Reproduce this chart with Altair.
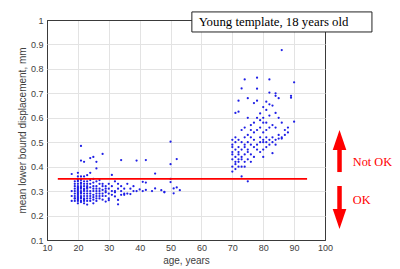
import altair as alt
import pandas as pd

# ---- data ----
young_ages = (
    [18]*4 + [19]*10 + [20]*20 + [21]*18 + [22]*14 + [23]*12 + [24]*10 + [25]*10 +
    [26]*10 + [27]*7 + [28]*7 + [29]*6 + [30]*5 + [31]*4 + [32]*4 + [33]*4 + [34]*4 +
    [35]*3 + [36]*2 + [37]*2 + [38]*2 + [39]*2 + [40] + [41]*2 + [42]*3 + [44] +
    [45]*2 + [47] + [48]*2 + [50]*4 + [51]*2 + [52]*2 + [53]
)
young_vals = [
    0.37, 0.30, 0.26, 0.28,
    0.34, 0.32, 0.31, 0.30, 0.29, 0.28, 0.27, 0.27, 0.33, 0.26,
    0.375, 0.35, 0.345, 0.34, 0.33, 0.32, 0.315, 0.31, 0.30, 0.295, 0.29, 0.285, 0.28, 0.275, 0.27, 0.265, 0.26, 0.25, 0.36, 0.305,
    0.485, 0.425, 0.36, 0.345, 0.335, 0.33, 0.32, 0.31, 0.30, 0.295, 0.29, 0.28, 0.275, 0.27, 0.26, 0.255, 0.35, 0.315,
    0.42, 0.36, 0.34, 0.33, 0.32, 0.31, 0.30, 0.29, 0.28, 0.27, 0.265, 0.26, 0.25, 0.305,
    0.365, 0.34, 0.33, 0.32, 0.31, 0.30, 0.29, 0.28, 0.27, 0.26, 0.245, 0.315,
    0.435, 0.375, 0.345, 0.33, 0.315, 0.30, 0.29, 0.28, 0.27, 0.26,
    0.44, 0.35, 0.335, 0.32, 0.31, 0.30, 0.285, 0.275, 0.265, 0.25,
    0.42, 0.393, 0.34, 0.32, 0.31, 0.30, 0.29, 0.28, 0.27, 0.26,
    0.345, 0.33, 0.31, 0.30, 0.29, 0.28, 0.27,
    0.452, 0.33, 0.32, 0.305, 0.29, 0.28, 0.265,
    0.32, 0.31, 0.295, 0.28, 0.257, 0.30,
    0.33, 0.31, 0.29, 0.27, 0.263,
    0.366, 0.32, 0.30, 0.285,
    0.34, 0.30, 0.295, 0.278,
    0.33, 0.31, 0.264, 0.246,
    0.427, 0.32, 0.30, 0.285,
    0.31, 0.29, 0.285,
    0.33, 0.29,
    0.31, 0.288,
    0.32, 0.30,
    0.425, 0.30,
    0.307,
    0.338, 0.30,
    0.427, 0.335, 0.305,
    0.30,
    0.372, 0.311,
    0.304,
    0.297, 0.295,
    0.502, 0.41, 0.35, 0.337,
    0.311, 0.291,
    0.431, 0.315,
    0.304,
]

old_ages = (
    [70]*8 + [71]*8 + [72]*9 + [73]*8 + [74]*8 + [75]*8 + [76]*6 + [77]*6 + [78]*7 +
    [79]*6 + [80]*8 + [81]*7 + [82]*7 + [83]*5 + [84]*6 + [85]*4 + [86]*4 + [87]*2 +
    [88]*2 + [89]*2 + [90]*2
)
old_vals = [
    0.51, 0.49, 0.46, 0.43, 0.40, 0.38, 0.48, 0.45,
    0.62, 0.52, 0.47, 0.44, 0.42, 0.50, 0.41, 0.39,
    0.67, 0.625, 0.51, 0.48, 0.46, 0.43, 0.40, 0.45, 0.42,
    0.72, 0.55, 0.50, 0.47, 0.44, 0.43, 0.40, 0.36,
    0.757, 0.56, 0.52, 0.49, 0.45, 0.42, 0.40, 0.48,
    0.68, 0.60, 0.53, 0.50, 0.47, 0.43, 0.34, 0.46,
    0.57, 0.52, 0.49, 0.45, 0.42, 0.55,
    0.66, 0.58, 0.51, 0.48, 0.44, 0.54,
    0.764, 0.719, 0.67, 0.60, 0.55, 0.49, 0.47,
    0.618, 0.59, 0.52, 0.50, 0.46, 0.56,
    0.644, 0.60, 0.54, 0.51, 0.50, 0.47, 0.44, 0.58,
    0.666, 0.632, 0.58, 0.52, 0.50, 0.48, 0.55,
    0.757, 0.703, 0.655, 0.609, 0.56, 0.51, 0.49,
    0.65, 0.57, 0.52, 0.50, 0.455,
    0.70, 0.69, 0.62, 0.56, 0.51, 0.49,
    0.68, 0.60, 0.53, 0.515,
    0.877, 0.58, 0.52, 0.515,
    0.55, 0.53,
    0.56, 0.54,
    0.682, 0.69,
    0.745, 0.584,
]

threshold = 0.35
threshold_ages = [13.5, 94.2]

x_ticks = [10, 20, 30, 40, 50, 60, 70, 80, 90, 100]
y_ticks = [0.1, 0.2, 0.3, 0.4, 0.5, 0.6, 0.7, 0.8, 0.9, 1.0]

title_text = "Young template, 18 years old"
box_x = [56.9, 115.2]
box_y = [0.951, 1.033]
box_text_pos = [59.1, 0.992]

arrow_x = 104.7
up_shaft = [0.378, 0.470]
up_head_center = 0.509
down_shaft = [0.321, 0.225]
down_head_center = 0.186
labels_txt = ["Not OK", "OK"]
labels_y = [0.419, 0.263]
labels_x = 109.0

RED = "#ff0000"
FRAME = "#3a3a3a"

df_pts = pd.DataFrame({
    "age": young_ages + old_ages,
    "val": young_vals + old_vals,
})

xscale = alt.Scale(domain=[10, 100], nice=False, zero=False)
yscale = alt.Scale(domain=[0.1, 1.0], nice=False, zero=False)

axis_common = dict(
    labelFont="Liberation Sans", labelFontSize=9, labelColor="#404040",
    titleFont="Liberation Sans", titleFontSize=10, titleColor="#404040",
    titleFontWeight="normal", gridWidth=1,
    ticks=False, domain=False, labelOverlap=False, labelFlush=False, labelBound=False,
    tickCount=20,
)

grid_x = {"condition": {"test": "datum.value <= 10.01 || datum.value >= 99.99", "value": FRAME},
          "value": "#e3e3e3"}
grid_y = {"condition": {"test": "datum.value <= 0.1001 || datum.value >= 0.9999", "value": FRAME},
          "value": "#e3e3e3"}

base = alt.Chart(df_pts)

points = base.mark_circle(size=5, color="#1f1fe6", opacity=1).encode(
    x=alt.X("age:Q", scale=xscale,
            axis=alt.Axis(values=x_ticks, title="age, years", labelPadding=3,
                          titleY=20, titleBaseline="middle", gridColor=grid_x, **axis_common)),
    y=alt.Y("val:Q", scale=yscale,
            axis=alt.Axis(values=y_ticks, format="~g",
                          title="mean lower bound displacement, mm", labelPadding=4,
                          titleX=-25, titleY=110, titleAngle=270,
                          titleBaseline="middle", titleAlign="center", gridColor=grid_y,
                          **axis_common)),
)

def X(f):
    return alt.X(f, scale=xscale, title="age, years")

def Y(f):
    return alt.Y(f, scale=yscale, title="mean lower bound displacement, mm")

df_thr = pd.DataFrame({"age": [threshold_ages[0]], "age2": [threshold_ages[1]], "val": [threshold]})
thr = alt.Chart(df_thr).mark_rule(color=RED, strokeWidth=1.8).encode(
    x=X("age:Q"), x2="age2:Q", y=Y("val:Q"))

df_box = pd.DataFrame({"x": [box_x[0]], "x2": [box_x[1]], "y": [box_y[0]], "y2": [box_y[1]]})
box = alt.Chart(df_box).mark_rect(fill="white", stroke="#222222", strokeWidth=1, clip=False).encode(
    x=X("x:Q"), x2="x2:Q", y=Y("y:Q"), y2="y2:Q")

df_btxt = pd.DataFrame({"x": [box_text_pos[0]], "y": [box_text_pos[1]], "t": [title_text]})
btxt = alt.Chart(df_btxt).mark_text(font="Liberation Serif", fontSize=12.8, color="#000000",
                                     align="left", baseline="middle").encode(
    x=X("x:Q"), y=Y("y:Q"), text="t:N")

df_shaft = pd.DataFrame({"x": [arrow_x, arrow_x], "y": [up_shaft[0], down_shaft[0]],
                         "y2": [up_shaft[1], down_shaft[1]]})
shafts = alt.Chart(df_shaft).mark_rule(color=RED, strokeWidth=4.5, strokeCap="butt").encode(
    x=X("x:Q"), y=Y("y:Q"), y2="y2:Q")

df_up = pd.DataFrame({"x": [arrow_x], "y": [up_head_center]})
up_head = alt.Chart(df_up).mark_point(shape="M0,-1L0.68,1L-0.68,1Z", size=400, filled=True,
                                      color=RED, opacity=1, strokeWidth=0).encode(
    x=X("x:Q"), y=Y("y:Q"))
df_dn = pd.DataFrame({"x": [arrow_x], "y": [down_head_center]})
dn_head = alt.Chart(df_dn).mark_point(shape="M0,1L0.68,-1L-0.68,-1Z", size=400, filled=True,
                                      color=RED, opacity=1, strokeWidth=0).encode(
    x=X("x:Q"), y=Y("y:Q"))

df_lab = pd.DataFrame({"x": [labels_x, labels_x], "y": labels_y, "t": labels_txt})
labs = alt.Chart(df_lab).mark_text(font="Liberation Serif", fontSize=12.3, color=RED,
                                   align="left", baseline="middle").encode(
    x=X("x:Q"), y=Y("y:Q"), text="t:N")

chart = alt.layer(points, thr, box, btxt, shafts, up_head, dn_head, labs).properties(
    width=278, height=220,
    background="white",
    padding={"left": 39, "top": 12, "right": 67, "bottom": 27},
    autosize=alt.AutoSizeParams(type="none"),
).configure_view(stroke=FRAME, strokeWidth=1).configure_axis(
    **{k: v for k, v in axis_common.items()}
)

chart.save("out.html", embed_options={"renderer": "svg", "actions": False})
